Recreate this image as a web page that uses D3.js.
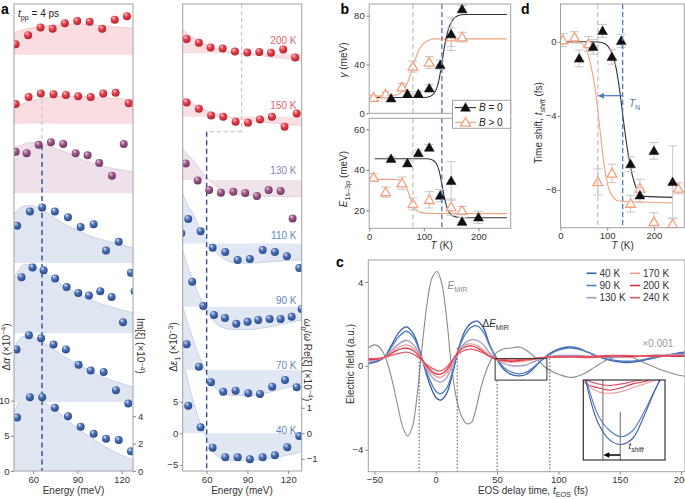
<!DOCTYPE html>
<html><head><meta charset="utf-8">
<script src="https://cdn.jsdelivr.net/npm/d3@7"></script>
<style>
body{margin:0;background:#fff;}
svg{display:block;font-family:"Liberation Sans",Arial,Helvetica,sans-serif;}
</style></head><body>
<script>
// ================= DATA =================
// Panel a
const temps = ["40 K","70 K","90 K","110 K","130 K","150 K","200 K"];
const groupOf = ["blue","blue","blue","blue","purple","red","red"];
const alphaOffsets = [0, 9.8, 19.6, 29.6, 39.5, 49.4, 59.2];
const epsOffsets = [0, 10, 20, 30, 40, 50, 60];
const alphaE = [
  [49.1,57.8,66.1,74.7,83.6,92.2,101,109.4,118,126.3],
  [48.7,57.1,65.4,73.8,82.2,90.8,99,107.8,116.1,124.5],
  [52.1,59.6,67.1,74.9,82.7,90.6,97.8,105.5,113.2,120.9,128.8],
  [49.1,57.8,66.1,74.7,83.6,92.2,101,109.4,118,126.3],
  [48.1,55.6,63.7,72,80.4,88.8,96.9,104.8,113.4,121.4],
  [48.1,56.9,65.2,73.8,82.2,90.5,99,107.5,115.9,124.8],
  [48.1,56.6,65,73.2,81.5,89.9,98.3,106.8,115.3,123.6]
];
const alphaV = [
  [7.6,10.5,10.5,9.0,7.8,6.3,5.3,4.6,4.4,2.8],
  [7.5,9.5,9.1,8.2,7.5,5.3,4.5,4.3,1.7,-0.2],
  [7.97,9.35,8.96,7.78,6.59,5.73,5.36,5.97,5.16,1.56,5.97],
  [5.3,7.3,7.9,7.3,6.5,5.1,5.5,1.75,3.0,-1.4],
  [5.9,5.7,6.9,7.25,7.0,5.7,5.4,4.3,2.5,7.0],
  [2.8,3.8,4.3,4.2,4.1,3.9,3.8,4.3,4.4,2.9],
  [1.5,2.8,3.9,3.7,4.5,4.8,4.7,3.7,5.0,5.5]
];
const imE = [47,50,54,58,64,72,80,90,100,110,120,127.7];
const imV = [
  [4.2,5.0,5.5,5.5,5.2,4.7,4.0,3.1,2.4,1.7,1.15,0.8],
  [3.9,4.5,4.8,4.8,4.5,4.0,3.4,2.8,2.2,1.7,1.35,1.1],
  [4.0,4.6,5.0,5.0,4.7,4.1,3.5,2.9,2.4,2.0,1.7,1.5],
  [3.6,3.9,4.15,4.2,4.0,3.5,2.9,2.4,1.9,1.6,1.3,1.1],
  [3.35,3.45,3.6,3.7,3.7,3.4,3.1,2.6,2.2,1.9,1.7,1.55],
  [1.2,1.35,1.5,1.65,1.8,1.95,2.0,2.0,1.95,1.9,1.8,1.75],
  [1.6,1.7,1.85,1.95,2.05,2.15,2.2,2.25,2.2,2.1,2.0,1.95]
];
const epsE = [
  [46.5,55.6,64.4,73.7,82.8,91.8,101.2,110.2,119.3,128.1],
  [45.3,54.3,63.2,72.2,81.3,90.6,99.2,108.2,117.6,126.2],
  [41.3,49.4,57.5,65.4,73.5,81.8,90.1,97.9,106.3,114.4,122.5,129.9],
  [46.5,55.6,64.4,73.7,82.8,91.8,101.2,110.2,119,128.1],
  [44.6,53.4,61.9,70.5,79.6,88.4,97,105.6,114.4,123.2],
  [45.3,54.3,63.3,72.2,81.3,90.4,99.2,108,117.3,126.2],
  [45.3,54.3,62.9,71.8,80.8,89.9,98.7,107.3,116.3,125.1]
];
const epsV = [
  [4.36,0.95,-2.27,-3.79,-3.79,-4.1,-3.79,-3.48,-2.21,-0.43],
  [4.06,0.52,-1.94,-3.43,-3.27,-3.68,-3.79,-2.64,-1.58,-2.73],
  [11.6,3.95,0.1,-1.3,-1.8,-2.7,-2.4,-2.1,-1.95,-1.95,-1.6,-0.36],
  [3.84,1.9,-0.7,-1.37,-2.64,-2.48,-1.06,-1.37,-2.05,-3.9],
  [2.64,-0.05,-1.58,-2.0,-1.85,-2.05,-2.53,-1.58,-1.74,-6.05],
  [2.27,1.26,0.22,0,-0.79,-0.95,-0.41,0,-1.58,0.54],
  [2.3,1.7,0.95,0.8,0.3,0.15,0.25,0.1,0.63,-0.63]
];
const reE = [42.4,46,50,54,58,62,66,72,80,90,100,110,120,130];
const reV = [
  [2.87,2.1,1.3,0.6,0.05,-0.45,-0.8,-1.02,-1.07,-1.07,-1.03,-0.95,-0.85,-0.72],
  [2.5,1.85,1.2,0.6,0.1,-0.35,-0.7,-0.92,-1.0,-1.0,-0.95,-0.82,-0.67,-0.52],
  [2.2,1.6,1.05,0.5,0.05,-0.35,-0.62,-0.82,-0.9,-0.9,-0.85,-0.75,-0.63,-0.52],
  [1.96,1.5,1.18,0.7,0.28,-0.05,-0.3,-0.58,-0.75,-0.78,-0.75,-0.71,-0.67,-0.65],
  [1.24,1.0,0.78,0.5,0.22,0.0,-0.2,-0.42,-0.55,-0.61,-0.63,-0.63,-0.65,-0.65],
  [0.78,0.65,0.52,0.4,0.3,0.2,0.12,0.04,-0.05,-0.13,-0.2,-0.25,-0.3,-0.33],
  [0.91,0.78,0.63,0.5,0.38,0.28,0.2,0.12,0.05,-0.02,-0.09,-0.15,-0.21,-0.26]
];
const alphaTicks = [0,5,10], imTicks = [0,2,4], epsTicks = [-5,0,5], reTicks = [-1,0,1], energyTicks = [60,90,120];
const eDashAlpha = 66, eDashEps = 60, eDashEpsGrey = 85.7;

// Panel b
const gB0T = [40,70,90,110,130,150,170];
const gB0V = [12.3,15.9,15.9,20.5,39.7,64.9,85.4];
const gB0Err = [2.5,2,2,3,4,13.5,3];
const gB1T = [8,30,60,80,110,150,170];
const gB1V = [12.8,15.6,21.4,38.3,41.6,62.4,62.4];
const gB1Err = [2,2,3,4.5,5,7.5,4];
const eB0T = [40,70,90,110,130,150,170,200];
const eB0V = [45.5,43.3,48.3,51,27.4,34.6,14.6,16.7];
const eB0Err = [1,1.5,1.5,1.5,3,9.5,2,3];
const eB1T = [8,30,60,80,110,150,170];
const eB1V = [36.3,29.1,33.5,23.3,25.3,21.7,20];
const eB1Err = [2,2.5,3,3,4,4,2];
const fitG0T = [5,100,112,118,124,128,132,136,140,145,152,162,175,252];
const fitG0V = [13,13,14,16,21,28,38,50,60,69,76,80,81,81];
const fitG1T = [5,40,55,64,70,75,80,85,90,97,105,120,252];
const fitG1V = [14,14.5,16,19.5,25,31,38,45,51,56,59,61,61];
const fitE0T = [10,105,115,122,128,133,138,143,150,160,175,252];
const fitE0V = [45.5,45.5,45,43.5,39.5,33,26,21,18,16.8,16.5,16.5];
const fitE1T = [2,50,60,66,71,76,81,87,95,110,252];
const fitE1V = [35.5,35.3,34.5,32.5,29.5,25.5,22,20,19,18.6,18.5];
const tTicks = [0,100,200], gTicks = [0,40,80], eTicks = [20,40,60];
const tGrey = 80, tNeel = 133;

// Panel c
const cTemps = ["40 K","90 K","130 K","170 K","200 K","240 K"];
const cColors = ["#3b5da6","#4f7fc4","#a497c8","#f29a9c","#e2323f","#e5566a"];
const cT = [-55,-48,-42,-36,-30,-24,-18,-12,-6,0,4,9,14,19,24,29,34,39,44,50,56,62,68,74,80,86,92,100,108,116,124,132,140,148,156,164,172,180,188,196,203];
const cV = [
  [0.1,0.2,0.4,1.0,1.6,1.86,1.5,0.5,-0.7,-1.5,-1.64,-1.3,-0.3,0.9,1.7,2.05,2.13,1.8,1.0,0.3,-0.2,-0.42,-0.48,-0.4,-0.1,0.25,0.55,0.8,0.9,0.85,0.65,0.45,0.3,0.2,0.16,0.2,0.3,0.4,0.5,0.6,0.65],
  [0.1,0.25,0.4,0.9,1.4,1.65,1.35,0.5,-0.5,-1.2,-1.33,-1.05,-0.2,0.85,1.5,1.85,1.9,1.6,0.95,0.35,-0.1,-0.3,-0.38,-0.3,-0.05,0.25,0.5,0.75,0.85,0.8,0.65,0.45,0.32,0.25,0.22,0.25,0.33,0.42,0.5,0.57,0.6],
  [0.15,0.3,0.4,0.75,1.05,1.22,1.0,0.4,-0.3,-0.7,-0.78,-0.55,0.1,0.75,1.1,1.25,1.2,1.0,0.6,0.3,0.1,0.0,0.0,0.05,0.2,0.35,0.45,0.5,0.5,0.5,0.45,0.42,0.4,0.4,0.42,0.45,0.48,0.5,0.52,0.55,0.55],
  [0.25,0.3,0.4,0.65,0.9,1.0,0.85,0.4,-0.2,-0.5,-0.55,-0.35,0.25,0.75,1.0,1.05,0.95,0.75,0.5,0.3,0.2,0.18,0.2,0.25,0.3,0.35,0.4,0.42,0.42,0.4,0.38,0.4,0.45,0.45,0.42,0.45,0.5,0.48,0.45,0.45,0.45],
  [0.3,0.32,0.4,0.6,0.78,0.85,0.72,0.35,-0.1,-0.38,-0.4,-0.2,0.3,0.7,0.9,0.95,0.85,0.65,0.45,0.3,0.25,0.22,0.25,0.3,0.33,0.38,0.4,0.42,0.43,0.42,0.42,0.42,0.45,0.48,0.45,0.45,0.48,0.5,0.48,0.45,0.45],
  [0.35,0.35,0.4,0.5,0.6,0.65,0.55,0.3,0.0,-0.2,-0.24,-0.05,0.3,0.6,0.75,0.8,0.72,0.6,0.45,0.35,0.3,0.28,0.3,0.33,0.36,0.4,0.42,0.44,0.45,0.45,0.45,0.47,0.5,0.5,0.5,0.48,0.45,0.45,0.47,0.5,0.5]
];
const mirT = [-55,-50,-46,-41,-36,-31,-27,-23,-19,-15,-11,-7,-3,1,5,9,13,17,21,25,29,33,37,42,48,55,62,68,75,82,90,100,111,120,130,140,150,158,170,180,192,203];
const mirV = [0.85,1.0,0.9,0.4,-0.6,-1.9,-2.9,-3.35,-2.9,-1.3,1.0,3.0,4.2,4.5,3.9,2.2,-0.1,-1.6,-2.4,-2.75,-2.7,-2.0,-1.0,-0.1,0.55,0.8,0.85,0.9,0.7,0.35,-0.1,-0.4,-0.55,-0.4,-0.05,0.3,0.45,0.45,0.15,-0.1,-0.35,-0.5];
const dottedT = [-13.5,17.5,50,93];
const dottedTop = [0.2,0.85,-0.7,0.35];
const boxT = [48.4,90.6], boxV = [-0.68,0.35];
const shiftT = [58.5,67.5];
const cxTicks = [-50,0,50,100,150,200], cyTicks = [-4,0,4];

// Panel d
const dB0T = [40,70,90,110,130,150,170,200,240];
const dB0V = [-0.9,-0.27,0.59,-0.81,0.05,-6.61,-8.29,-5.89,-7.57];
const dB0Err = [0.45,0.4,0.35,0.4,0.35,0.4,0.4,0.45,1.95];
const dB1T = [5,30,60,80,110,150,170,200,240,252];
const dB1V = [0.09,0.24,-0.12,-7.57,-7.11,-8.74,-7.92,-9.73,-9.85,-7.92];
const dB1Err = [0.35,0.3,0.4,0.7,0.5,0.45,0.5,0.5,0.3,0.3];
const fitD0T = [3,70,90,100,110,118,126,134,142,150,158,166,180,241];
const fitD0V = [0,0,-0.05,-0.2,-0.6,-1.3,-2.5,-4.1,-5.6,-6.8,-7.6,-8.1,-8.35,-8.4];
const fitD1T = [3,40,50,58,66,74,80,86,92,100,110,125,241];
const fitD1V = [0,-0.05,-0.2,-0.6,-1.4,-2.5,-3.7,-5.1,-6.4,-7.6,-8.3,-8.6,-8.7];
const dyTicks = [-8,-4,0];

// ================= DRAWING =================
const W=685,H=499;
const svg = d3.select("body").append("svg").attr("width",W).attr("height",H);
const defs = svg.append("defs");
const sphere = {blue:["#dbe4f5","#4a70b4","#27458a"], purple:["#ecc9df","#9d5a89","#6a325d"], red:["#fcc8cc","#e6434f","#b11d2b"]};
Object.entries(sphere).forEach(([k,c])=>{
  const g=defs.append("radialGradient").attr("id","s-"+k).attr("cx","45%").attr("cy","40%").attr("r","62%").attr("fx","32%").attr("fy","26%");
  g.append("stop").attr("offset","0%").attr("stop-color",c[0]);
  g.append("stop").attr("offset","45%").attr("stop-color",c[1]);
  g.append("stop").attr("offset","100%").attr("stop-color",c[2]);
});
const shadeCols = {blue:"#dfe6f2", purple:"#efe1e9", red:"#f9dde0"};
const lineCols = {blue:"#bccae3", purple:"#dcc6d4", red:"#f3c2c7"};
const labelCols = {blue:"#5f84c3", purple:"#8e84b6", red:"#e2646e"};
const FRAME="#a0a0a0";
function clip(id,x,y,w,h){ defs.append("clipPath").attr("id",id).append("rect").attr("x",x).attr("y",y).attr("width",w).attr("height",h); return `url(#${id})`; }
function frame(x,y,w,h){ svg.append("rect").attr("x",x).attr("y",y).attr("width",w).attr("height",h).attr("fill","none").attr("stroke",FRAME).attr("stroke-width",1); }
function rich(parent,x,y,parts,opt={}){
  const fs=opt.size||10;
  const t=parent.append("text").attr("x",x).attr("y",y).attr("font-size",fs).attr("fill",opt.fill||"#222").attr("text-anchor",opt.anchor||"start");
  if(opt.rotate) t.attr("transform",`rotate(${opt.rotate},${x},${y})`);
  let shift=0;
  parts.forEach(p=>{
    const s=t.append("tspan").text(p.t);
    const target = p.sub? 0.3*fs : p.sup? -0.38*fs : 0;
    if(target!==shift){ s.attr("dy",target-shift); shift=target; }
    if(p.sub||p.sup) s.attr("font-size",0.72*fs);
    if(p.it) s.attr("font-style","italic");
  });
  return t;
}
function axis(gen, tx, ty){
  const g=svg.append("g").attr("transform",`translate(${tx},${ty})`).call(gen);
  g.attr("font-family",null).attr("font-size",null);
  g.select(".domain").remove();
  g.selectAll(".tick line").attr("stroke","#888");
  g.selectAll(".tick text").attr("fill","#333").style("font-size","9.5px");
  return g;
}

// ---------- Panel a (left: Δα) ----------
const xA = d3.scaleLinear([47,127.7],[14,133]);
const yAl = d3.scaleLinear([0,66.43],[471,4]);
const yIm = d3.scaleLinear([0,34.09],[471,4]);
const pA = svg.append("g").attr("clip-path",clip("cA",14,4,119,467));
temps.forEach((t,i)=>{
  const grp=groupOf[i], base=yAl(alphaOffsets[i]);
  const pts=imE.map((e,j)=>[xA(e), base-(yIm(0)-yIm(imV[i][j]))]);
  pA.append("path").attr("d",d3.area().x(d=>d[0]).y0(base).y1(d=>d[1]).curve(d3.curveMonotoneX)(pts)).attr("fill",shadeCols[grp]);
  pA.append("path").attr("d",d3.line().curve(d3.curveMonotoneX)(pts)).attr("fill","none").attr("stroke",lineCols[grp]).attr("stroke-width",0.8);
});
pA.append("line").attr("x1",xA(eDashAlpha)).attr("x2",xA(eDashAlpha)).attr("y1",100).attr("y2",142).attr("stroke","#c8c8c8").attr("stroke-width",1.2).attr("stroke-dasharray","4,3");
pA.append("line").attr("x1",xA(eDashAlpha)).attr("x2",xA(eDashAlpha)).attr("y1",145).attr("y2",471).attr("stroke","#2f4c8c").attr("stroke-width",1.4).attr("stroke-dasharray","5,3.5");
temps.forEach((t,i)=>{
  pA.selectAll(null).data(alphaE[i]).enter().append("circle")
    .attr("cx",d=>xA(d)).attr("cy",(d,j)=>yAl(alphaOffsets[i]+alphaV[i][j])).attr("r",4)
    .attr("fill",`url(#s-${groupOf[i]})`);
});
frame(14,4,119,467);
axis(d3.axisBottom(xA).tickValues(energyTicks).tickSize(3).tickPadding(2).tickSizeOuter(0),0,471);
axis(d3.axisLeft(yAl).tickValues(alphaTicks).tickSize(3).tickPadding(1.5),14,0);
axis(d3.axisRight(yIm).tickValues(imTicks).tickSize(3).tickPadding(2),133,0);
rich(svg,73.5,494,[{t:"Energy (meV)"}],{anchor:"middle",fill:"#333"});
rich(svg,10.2,347,[{t:"Δ"},{t:"α",it:true},{t:" (×10"},{t:"−4",sup:true},{t:")"}],{anchor:"middle",rotate:-90,fill:"#333"});
rich(svg,136.5,346,[{t:"Im[ξ] (×10"},{t:"−4",sup:true},{t:")"}],{anchor:"middle",rotate:90,fill:"#333"});
rich(svg,18,17,[{t:"t",it:true},{t:"pp",sub:true},{t:" = 4 ps"}],{fill:"#222"});
svg.append("text").attr("x",1).attr("y",14).attr("font-size",14).attr("font-weight","bold").text("a");

// ---------- Panel a (right: Δε1) ----------
const xB = d3.scaleLinear([42.4,129.9],[182.7,301.7]);
const yEps = d3.scaleLinear([-5.96,67.82],[471,4]);
const yRe = d3.scaleLinear([-1.478,16.835],[471,4]);
const pB = svg.append("g").attr("clip-path",clip("cB",182.7,4,119,467));
temps.forEach((t,i)=>{
  const grp=groupOf[i], base=yEps(epsOffsets[i]);
  const pts=reE.map((e,j)=>[xB(e), base-(yRe(0)-yRe(reV[i][j]))]);
  pB.append("path").attr("d",d3.area().x(d=>d[0]).y0(base).y1(d=>d[1]).curve(d3.curveMonotoneX)(pts)).attr("fill",shadeCols[grp]).attr("opacity",0.95);
  pB.append("path").attr("d",d3.line().curve(d3.curveMonotoneX)(pts)).attr("fill","none").attr("stroke",lineCols[grp]).attr("stroke-width",0.8);
});
pB.append("line").attr("x1",xB(eDashEpsGrey)).attr("x2",xB(eDashEpsGrey)).attr("y1",4).attr("y2",131.7).attr("stroke","#c8c8c8").attr("stroke-width",1.2).attr("stroke-dasharray","4,3");
pB.append("line").attr("x1",xB(eDashEpsGrey)).attr("x2",xB(eDashEps)).attr("y1",131.7).attr("y2",131.7).attr("stroke","#c8c8c8").attr("stroke-width",1.2).attr("stroke-dasharray","4,3");
pB.append("line").attr("x1",xB(eDashEps)).attr("x2",xB(eDashEps)).attr("y1",131.7).attr("y2",471).attr("stroke","#2f4c8c").attr("stroke-width",1.4).attr("stroke-dasharray","5,3.5");
temps.forEach((t,i)=>{
  pB.selectAll(null).data(epsE[i]).enter().append("circle")
    .attr("cx",d=>xB(d)).attr("cy",(d,j)=>yEps(epsOffsets[i]+epsV[i][j])).attr("r",4)
    .attr("fill",`url(#s-${groupOf[i]})`);
  svg.append("text").attr("x",296.5).attr("y",yEps(epsOffsets[i])+1.2-1.72*i).attr("text-anchor","end")
    .attr("font-size",10).attr("fill",labelCols[groupOf[i]]).text(t);
});
frame(182.7,4,119,467);
axis(d3.axisBottom(xB).tickValues(energyTicks).tickSize(3).tickPadding(2).tickSizeOuter(0),0,471);
axis(d3.axisLeft(yEps).tickValues(epsTicks).tickSize(3).tickPadding(1.5),182.7,0);
axis(d3.axisRight(yRe).tickValues(reTicks).tickSize(3).tickPadding(2),301.7,0);
rich(svg,242,494,[{t:"Energy (meV)"}],{anchor:"middle",fill:"#333"});
rich(svg,176.8,347,[{t:"Δ"},{t:"ε",it:true},{t:"1",sub:true},{t:" (×10"},{t:"−3",sup:true},{t:")"}],{anchor:"middle",rotate:-90,fill:"#333"});
rich(svg,304,360,[{t:"ω",it:true},{t:"0",sub:true},{t:"/"},{t:"ω",it:true},{t:" Re[ξ] (×10"},{t:"−4",sup:true},{t:")"}],{anchor:"middle",rotate:90,fill:"#333"});

// ---------- Panel b ----------
const xT = d3.scaleLinear([0,259],[369.2,510.7]);
const yG = d3.scaleLinear([0,89.6],[113.3,4]);
const yE = d3.scaleLinear([11.3,65.4],[228.3,118.3]);
const ORANGE="#f4a07c";
const tri = d3.symbol(d3.symbolTriangle).size(42);
function dashV(x,y1,y2,col){ svg.append("line").attr("x1",x).attr("x2",x).attr("y1",y1).attr("y2",y2).attr("stroke",col).attr("stroke-width",1.3).attr("stroke-dasharray","5,3"); }
function scatter(g,xs,ys,errs,sx,sy,filled){
  g.selectAll(null).data(xs).enter().append("g").each(function(d,i){
    const s=d3.select(this), x=sx(d), y=sy(ys[i]), e1=sy(ys[i]+errs[i]), e2=sy(ys[i]-errs[i]);
    s.append("line").attr("x1",x).attr("x2",x).attr("y1",e1).attr("y2",e2).attr("stroke","#c6c6c6").attr("stroke-width",1);
    s.append("line").attr("x1",x-4.5).attr("x2",x+4.5).attr("y1",e1).attr("y2",e1).attr("stroke","#c6c6c6").attr("stroke-width",1);
    s.append("line").attr("x1",x-4.5).attr("x2",x+4.5).attr("y1",e2).attr("y2",e2).attr("stroke","#c6c6c6").attr("stroke-width",1);
  });
  g.selectAll(null).data(xs).enter().append("path").attr("d",tri)
    .attr("transform",(d,i)=>`translate(${sx(d)},${sy(ys[i])+0.8})`)
    .attr("fill",filled?"#111":"#fff").attr("stroke",filled?"#111":ORANGE).attr("stroke-width",filled?0.5:1.3);
}
function fitLine(g,xs,ys,sx,sy,col){
  g.append("path").attr("d",d3.line().x(d=>sx(d[0])).y(d=>sy(d[1])).curve(d3.curveMonotoneX)(xs.map((x,i)=>[x,ys[i]])))
    .attr("fill","none").attr("stroke",col).attr("stroke-width",1.1);
}
const pBt = svg.append("g").attr("clip-path",clip("cBt",369.2,4,141.5,109.3));
dashV(xT(tGrey),4,113.3,"#c4c4c4"); dashV(xT(tNeel),4,113.3,"#4a77b8");
fitLine(pBt,fitG1T,fitG1V,xT,yG,ORANGE);
fitLine(pBt,fitG0T,fitG0V,xT,yG,"#333");
scatter(pBt,gB1T,gB1V,gB1Err,xT,yG,false);
scatter(pBt,gB0T,gB0V,gB0Err,xT,yG,true);
frame(369.2,4,141.5,109.3);
const pBb = svg.append("g").attr("clip-path",clip("cBb",369.2,118.3,141.5,110));
dashV(xT(tGrey),118.3,228.3,"#c4c4c4"); dashV(xT(tNeel),118.3,228.3,"#4a77b8");
fitLine(pBb,fitE1T,fitE1V,xT,yE,ORANGE);
fitLine(pBb,fitE0T,fitE0V,xT,yE,"#333");
scatter(pBb,eB1T,eB1V,eB1Err,xT,yE,false);
scatter(pBb,eB0T,eB0V,eB0Err,xT,yE,true);
frame(369.2,118.3,141.5,110);
axis(d3.axisLeft(yG).tickValues(gTicks).tickSize(3).tickPadding(1.5),369.2,0);
axis(d3.axisLeft(yE).tickValues(eTicks).tickSize(3).tickPadding(1.5),369.2,0);
axis(d3.axisBottom(xT).tickValues(tTicks).tickSize(3).tickPadding(1.5).tickSizeOuter(0),0,228.3);
rich(svg,441.7,249,[{t:"T",it:true},{t:" (K)"}],{anchor:"middle",fill:"#333"});
rich(svg,346.8,60,[{t:"γ",it:true},{t:" (meV)"}],{anchor:"middle",rotate:-90,fill:"#333"});
rich(svg,346.8,179,[{t:"E",it:true},{t:"1s–3p",sub:true},{t:" (meV)"}],{anchor:"middle",rotate:-90,fill:"#333"});
// legend
const lg = svg.append("g");
lg.append("rect").attr("x",452.5).attr("y",100.3).attr("width",58.2).attr("height",28).attr("fill","#fff").attr("stroke",FRAME);
[["#111",true,"B"," = 0",107.6],[ORANGE,false,"B"," > 0",122.4]].forEach(([c,f,b,rest,y])=>{
  lg.append("line").attr("x1",455).attr("x2",476).attr("y1",y).attr("y2",y).attr("stroke",f?"#333":ORANGE).attr("stroke-width",1.1);
  lg.append("path").attr("d",tri).attr("transform",`translate(465.5,${y+0.8})`).attr("fill",f?"#111":"#fff").attr("stroke",c).attr("stroke-width",f?0.5:1.3);
  rich(lg,479,y+3.5,[{t:b,it:true},{t:rest}],{fill:"#222"});
});
svg.append("text").attr("x",340.5).attr("y",14).attr("font-size",14).attr("font-weight","bold").text("b");

// ---------- Panel d ----------
const xTd = d3.scaleLinear([0,265],[560.5,684.3]);
const yS = d3.scaleLinear([-10.04,2.04],[227.7,4]);
const pD = svg.append("g").attr("clip-path",clip("cD",560.5,4,123.8,223.7));
dashV(xTd(tGrey),4,227.7,"#c4c4c4"); dashV(xTd(tNeel),4,227.7,"#4a77b8");
fitLine(pD,fitD1T,fitD1V,xTd,yS,ORANGE);
fitLine(pD,fitD0T,fitD0V,xTd,yS,"#333");
scatter(pD,dB1T,dB1V,dB1Err,xTd,yS,false);
scatter(pD,dB0T,dB0V,dB0Err,xTd,yS,true);
// arrow T_N
svg.append("line").attr("x1",xTd(tNeel)).attr("x2",xTd(tGrey)+5).attr("y1",95.7).attr("y2",95.7).attr("stroke","#4a77b8").attr("stroke-width",1.2);
svg.append("path").attr("d",`M${xTd(tGrey)},95.7 l6,-2.8 l0,5.6 z`).attr("fill","#4a77b8");
rich(svg,629,107,[{t:"T",it:true},{t:"N",sub:true}],{fill:"#4a77b8"});
frame(560.5,4,123.8,223.7);
axis(d3.axisLeft(yS).tickValues(dyTicks).tickFormat(d3.format("d")).tickSize(3).tickPadding(1),560.5,0);
axis(d3.axisBottom(xTd).tickValues(tTicks).tickSize(3).tickPadding(1.5).tickSizeOuter(0),0,227.7);
rich(svg,622.7,249,[{t:"T",it:true},{t:" (K)"}],{anchor:"middle",fill:"#333"});
rich(svg,541.8,123,[{t:"Time shift, "},{t:"t",it:true},{t:"shift",sub:true,it:true},{t:" (fs)"}],{anchor:"middle",rotate:-90,fill:"#333"});
svg.append("text").attr("x",521).attr("y",14).attr("font-size",14).attr("font-weight","bold").text("d");

// ---------- Panel c ----------
const xt = d3.scaleLinear([-55,203.2],[368.3,685]);
const yF = d3.scaleLinear([-5.05,5.05],[471.7,260]);
const pC = svg.append("g").attr("clip-path",clip("cC",368.3,260,316.7,211.7));
const lineC = d3.line().x(d=>xt(d[0])).y(d=>yF(d[1])).curve(d3.curveCatmullRom);
pC.append("path").attr("d",lineC(mirT.map((t,i)=>[t,mirV[i]]))).attr("fill","none").attr("stroke","#8a8a8a").attr("stroke-width",1.1);
dottedT.forEach((t,i)=>{
  pC.append("line").attr("x1",xt(t)).attr("x2",xt(t)).attr("y1",yF(dottedTop[i])).attr("y2",471.7).attr("stroke","#444").attr("stroke-width",0.9).attr("stroke-dasharray","1.6,1.8");
});
cV.forEach((vals,k)=>{
  pC.append("path").attr("d",lineC(cT.map((t,i)=>[t,vals[i]]))).attr("fill","none").attr("stroke",cColors[k]).attr("stroke-width",1.3);
});
pC.append("rect").attr("x",xt(boxT[0])).attr("y",yF(boxV[1])).attr("width",xt(boxT[1])-xt(boxT[0])).attr("height",yF(boxV[0])-yF(boxV[1])).attr("fill","none").attr("stroke","#444").attr("stroke-width",1.1);
// inset
const ix = d3.scaleLinear(boxT,[583.3,665]);
const iy = d3.scaleLinear(boxV,[460,380]);
svg.append("rect").attr("x",583.3).attr("y",380).attr("width",81.7).attr("height",80).attr("fill","#fff");
const pI = svg.append("g").attr("clip-path",clip("cI",583.3,380,81.7,80));
const lineI = d3.line().x(d=>ix(d[0])).y(d=>iy(d[1])).curve(d3.curveCatmullRom);
[5,4,3,1,0].forEach(k=>{
  pI.append("path").attr("d",lineI(cT.map((t,i)=>[t,cV[k][i]]))).attr("fill","none").attr("stroke",cColors[k]).attr("stroke-width",1.1);
});
pI.append("line").attr("x1",ix(shiftT[0])).attr("x2",ix(shiftT[0])).attr("y1",380).attr("y2",460).attr("stroke","#777").attr("stroke-width",1.1);
pI.append("line").attr("x1",ix(shiftT[1])).attr("x2",ix(shiftT[1])).attr("y1",411.7).attr("y2",460).attr("stroke","#777").attr("stroke-width",1.1);
pI.append("line").attr("x1",ix(shiftT[1])).attr("x2",ix(shiftT[0])+5).attr("y1",455).attr("y2",455).attr("stroke","#000").attr("stroke-width",1.3);
pI.append("path").attr("d",`M${ix(shiftT[0])+0.5},455 l6,-2.8 l0,5.6 z`).attr("fill","#000");
rich(svg,628.5,449,[{t:"t",it:true},{t:"shift",sub:true,it:true}],{fill:"#222",size:9.5});
svg.append("rect").attr("x",583.3).attr("y",380).attr("width",81.7).attr("height",80).attr("fill","none").attr("stroke","#222").attr("stroke-width",1.1);
frame(368.3,260,316.7,211.7);
axis(d3.axisLeft(yF).tickValues(cyTicks).tickSize(3).tickPadding(2),368.3,0);
axis(d3.axisBottom(xt).tickValues(cxTicks).tickSize(3).tickPadding(1.5).tickSizeOuter(0),0,471.7);
rich(svg,533,494,[{t:"EOS delay time, "},{t:"t",it:true},{t:"EOS",sub:true},{t:" (fs)"}],{anchor:"middle",fill:"#333"});
rich(svg,353.5,364,[{t:"Electric field (a.u.)"}],{anchor:"middle",rotate:-90,fill:"#333"});
rich(svg,447.5,289,[{t:"E",it:true},{t:"MIR",sub:true}],{fill:"#8a8a8a"});
rich(svg,482.5,327,[{t:"Δ"},{t:"E",it:true},{t:"MIR",sub:true}],{fill:"#333"});
svg.append("text").attr("x",642.5).attr("y",347).attr("font-size",10).attr("fill","#999").text("×0.001");
// legend c
cTemps.forEach((t,k)=>{
  const col=Math.floor(k/3), row=k%3;
  const x0 = col===0?586.5:630, y0 = 273.3+row*12.2;
  svg.append("line").attr("x1",x0).attr("x2",x0+10).attr("y1",y0).attr("y2",y0).attr("stroke",cColors[k]).attr("stroke-width",1.6);
  svg.append("text").attr("x",x0+13).attr("y",y0+3.5).attr("font-size",10).attr("fill","#333").text(t);
});
svg.append("text").attr("x",336).attr("y",267).attr("font-size",14).attr("font-weight","bold").text("c");
</script></body></html>
